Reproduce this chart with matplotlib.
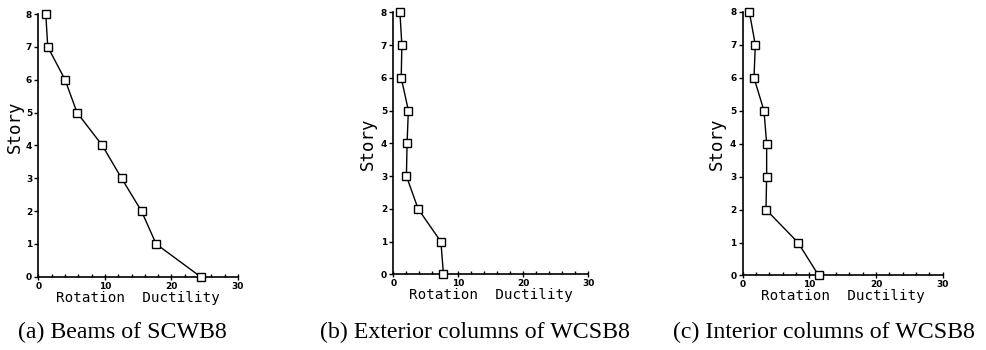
import matplotlib
matplotlib.use("Agg")
import matplotlib.pyplot as plt
from matplotlib.ticker import MultipleLocator

stories = [8, 7, 6, 5, 4, 3, 2, 1, 0]
beams_scwb8 = [1.1, 1.4, 4.0, 5.8, 9.6, 12.5, 15.5, 17.7, 24.4]
ext_cols_wcsb8 = [1.0, 1.3, 1.2, 2.3, 2.1, 2.0, 3.8, 7.3, 7.7]
int_cols_wcsb8 = [1.0, 1.9, 1.7, 3.2, 3.6, 3.6, 3.5, 8.3, 11.4]

captions = ["(a) Beams of SCWB8", "(b) Exterior columns of WCSB8",
            "(c) Interior columns of WCSB8"]
series = [beams_scwb8, ext_cols_wcsb8, int_cols_wcsb8]

fig = plt.figure(figsize=(9.86, 3.5), dpi=100)

# axes boxes in figure fraction
boxes = [[0.039, 0.209, 0.2023, 0.751],
         [0.399, 0.216, 0.1978, 0.749],
         [0.7532, 0.213, 0.2028, 0.753]]
cap_x = [0.1237, 0.4817, 0.8357]
story_xy = [(-0.073, 0.57), (-0.084, 0.5), (-0.083, 0.5)]

for box, vals, cap, cx, sxy in zip(boxes, series, captions, cap_x, story_xy):
    ax = fig.add_axes(box)
    ax.plot(vals, stories, color='black', lw=1.0, marker='s', ms=6,
            mfc='white', mec='black', mew=1.0, clip_on=False, zorder=3)
    ax.set_xlim(0, 30)
    ax.set_ylim(0, 8)
    ax.spines['top'].set_visible(False)
    ax.spines['right'].set_visible(False)
    for s in ('left', 'bottom'):
        ax.spines[s].set_linewidth(1.2)
    ax.xaxis.set_major_locator(MultipleLocator(10))
    ax.xaxis.set_minor_locator(MultipleLocator(2))
    ax.yaxis.set_major_locator(MultipleLocator(1))
    ax.tick_params(axis='x', which='major', direction='inout', length=5,
                   width=1, labelsize=6.5, pad=1)
    ax.tick_params(axis='x', which='minor', direction='in', length=2.5,
                   width=1)
    ax.tick_params(axis='y', which='major', direction='out', length=3,
                   width=1, labelsize=6.5, pad=1.5)
    for lab in ax.get_xticklabels() + ax.get_yticklabels():
        lab.set_fontweight('bold')
    ax.set_xlabel('Rotation  Ductility', family='DejaVu Sans Mono',
                  fontsize=10.3, labelpad=0)
    ax.set_ylabel('Story', family='DejaVu Sans Mono', fontsize=12.5)
    ax.yaxis.set_label_coords(*sxy)
    fig.text(cx, 0.051, cap, ha='center', va='center',
             family='Liberation Serif', fontsize=17.2)

fig.savefig('out.png', dpi=100, facecolor='white')
